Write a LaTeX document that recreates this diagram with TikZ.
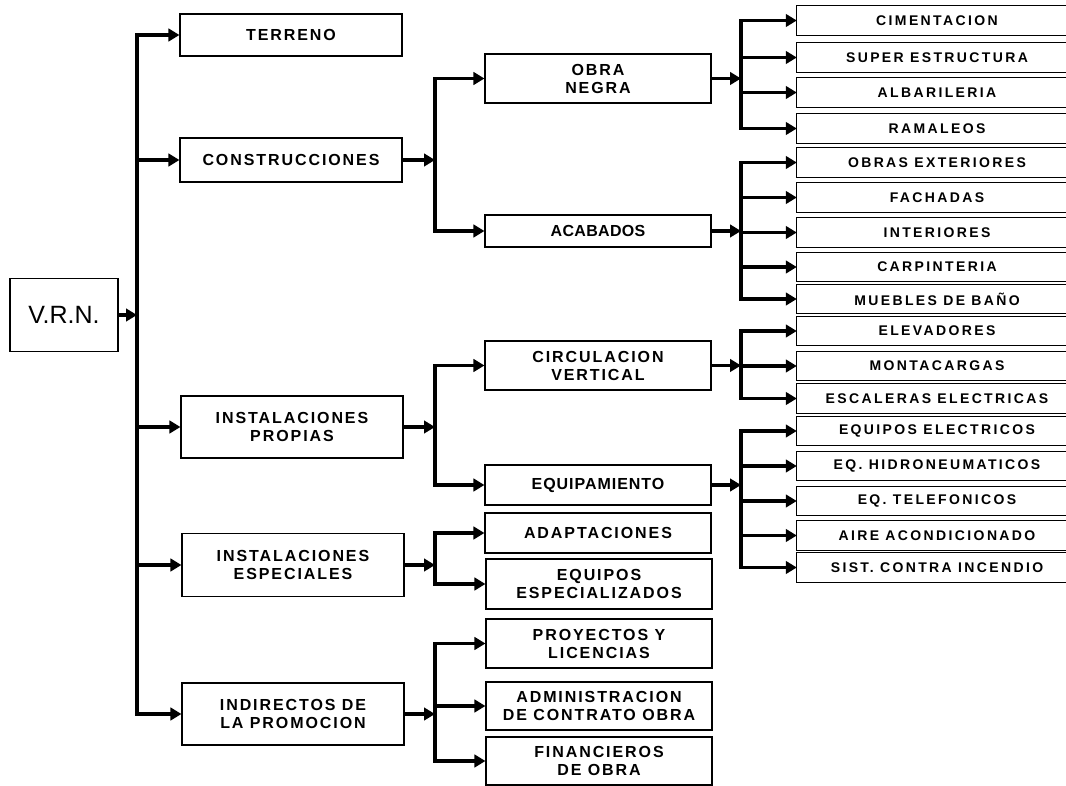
\documentclass[tikz,border=0pt]{standalone}
\usepackage{fontspec}
\setmainfont{Liberation Sans}
\newfontfamily\lblA{Liberation Sans}[LetterSpace=12]
\newfontfamily\lblB{Liberation Sans}[LetterSpace=17]
\usetikzlibrary{arrows.meta}
\begin{document}
\begin{tikzpicture}[x=1pt,y=-1pt,
  box/.style={draw, line width=1.1pt, inner sep=0pt, align=center,
    font=\lblA\bfseries\fontsize{16}{18}\selectfont},
  lone/.style={box, minimum width=222pt},
  ltwo/.style={box, minimum width=226pt},
  lthree/.style={inner sep=0pt, minimum width=280pt, minimum height=29pt,
    font=\lblB\bfseries\fontsize{14}{16}\selectfont},
  openbox/.style={line width=1.1pt},
  arr/.style={line width=3.8pt, -{Triangle[length=11pt,width=12.5pt]}},
  bar/.style={line width=3.8pt, line cap=rect}]
\useasboundingbox (0,0) rectangle (1066,786);

% root
\node[draw, line width=1.1pt, minimum width=108pt, minimum height=73pt,
  font=\fontsize{25}{28}\selectfont] (vrn) at (64,315) {V.R.N.};

% level 1
\node[lone, minimum height=42pt] (terreno) at (291,35) {TERRENO};
\node[lone, minimum height=44pt] (constr) at (291,160) {CONSTRUCCIONES};
\node[lone, minimum height=62pt] (propias) at (292,427) {INSTALACIONES\\PROPIAS};
\node[lone, minimum height=63pt] (espec) at (293,565) {INSTALACIONES\\ESPECIALES};
\node[lone, minimum height=62pt] (indir) at (293,714) {INDIRECTOS DE\\LA PROMOCION};

% level 2
\node[ltwo, minimum height=49pt] (obra) at (598,78.5) {OBRA\\NEGRA};
\node[ltwo, minimum height=32pt, font=\lblA\bfseries\fontsize{16}{18}\selectfont\addfontfeature{LetterSpace=2}] (acab) at (598,231) {ACABADOS};
\node[ltwo, minimum height=49pt] (circ) at (598,365.5) {CIRCULACION\\VERTICAL};
\node[ltwo, minimum height=40pt, font=\lblA\bfseries\fontsize{16}{18}\selectfont\addfontfeature{LetterSpace=6}] (equip) at (598,485) {EQUIPAMIENTO};
\node[ltwo, minimum height=40pt] (adapt) at (598,533) {ADAPTACIONES};
\node[ltwo, minimum height=50pt] (eqesp) at (599,584) {EQUIPOS\\ESPECIALIZADOS};
\node[ltwo, minimum height=49pt] (proy) at (599,643.5) {PROYECTOS Y\\LICENCIAS};
\node[ltwo, minimum height=48pt] (admin) at (599,706) {ADMINISTRACION\\DE CONTRATO OBRA};
\node[ltwo, minimum height=48pt] (finan) at (599,761) {FINANCIEROS\\DE OBRA};

% level 3 (boxes run off the right edge)
\node[lthree] (c1) at (937,20.5) {CIMENTACION};
\node[lthree] (c2) at (937,57.5) {SUPER ESTRUCTURA};
\node[lthree] (c3) at (937,92.5) {ALBARILERIA};
\node[lthree] (c4) at (937,128.5) {RAMALEOS};
\node[lthree] (c5) at (937,162.5) {OBRAS EXTERIORES};
\node[lthree] (c6) at (937,197.5) {FACHADAS};
\node[lthree] (c7) at (937,232.5) {INTERIORES};
\node[lthree] (c8) at (937,267) {CARPINTERIA};
\node[lthree] (c9) at (937,299) {MUEBLES DE BAÑO};
\node[lthree] (c10) at (937,331) {ELEVADORES};
\node[lthree] (c11) at (937,366) {MONTACARGAS};
\node[lthree] (c12) at (937,398.5) {ESCALERAS ELECTRICAS};
\node[lthree] (c13) at (937,431) {EQUIPOS ELECTRICOS};
\node[lthree] (c14) at (937,466) {EQ. HIDRONEUMATICOS};
\node[lthree] (c15) at (937,501) {EQ. TELEFONICOS};
\node[lthree] (c16) at (937,535.5) {AIRE ACONDICIONADO};
\node[lthree] (c17) at (937,567.5) {SIST. CONTRA INCENDIO};
\foreach \n in {c1,c2,c3,c4,c5,c6,c7,c8,c9,c10,c11,c12,c13,c14,c15,c16,c17}
  \draw[openbox] ([xshift=40pt]\n.north east) -- (\n.north west) -- (\n.south west) -- ([xshift=40pt]\n.south east);

% junction columns
\coordinate (t) at (137,0);
\coordinate (u) at (435,0);
\coordinate (v) at (741,0);

% root to level 1
\draw[bar] (terreno.west -| t) -- (indir.west -| t);
\draw[arr] (vrn.east) -- (vrn.east -| t);
\foreach \n in {terreno,constr,propias,espec,indir}
  \draw[arr] (\n.west -| t) -- (\n.west);

% level 1 to level 2
\draw[arr] (constr.east) -- (constr.east -| u);
\draw[bar] (obra.west -| u) -- (acab.west -| u);
\foreach \n in {obra,acab} \draw[arr] (\n.west -| u) -- (\n.west);

\draw[arr] (propias.east) -- (propias.east -| u);
\draw[bar] (circ.west -| u) -- (equip.west -| u);
\foreach \n in {circ,equip} \draw[arr] (\n.west -| u) -- (\n.west);

\draw[arr] (espec.east) -- (espec.east -| u);
\draw[bar] (adapt.west -| u) -- (eqesp.west -| u);
\foreach \n in {adapt,eqesp} \draw[arr] (\n.west -| u) -- (\n.west);

\draw[arr] (indir.east) -- (indir.east -| u);
\draw[bar] (proy.west -| u) -- (finan.west -| u);
\foreach \n in {proy,admin,finan} \draw[arr] (\n.west -| u) -- (\n.west);

% level 2 to level 3
\draw[arr] (obra.east) -- (obra.east -| v);
\draw[bar] (c1.west -| v) -- (c4.west -| v);
\foreach \n in {c1,c2,c3,c4} \draw[arr] (\n.west -| v) -- (\n.west);

\draw[arr] (acab.east) -- (acab.east -| v);
\draw[bar] (c5.west -| v) -- (c9.west -| v);
\foreach \n in {c5,c6,c7,c8,c9} \draw[arr] (\n.west -| v) -- (\n.west);

\draw[arr] (circ.east) -- (circ.east -| v);
\draw[bar] (c10.west -| v) -- (c12.west -| v);
\foreach \n in {c10,c11,c12} \draw[arr] (\n.west -| v) -- (\n.west);

\draw[arr] (equip.east) -- (equip.east -| v);
\draw[bar] (c13.west -| v) -- (c17.west -| v);
\foreach \n in {c13,c14,c15,c16,c17} \draw[arr] (\n.west -| v) -- (\n.west);
\end{tikzpicture}
\end{document}
